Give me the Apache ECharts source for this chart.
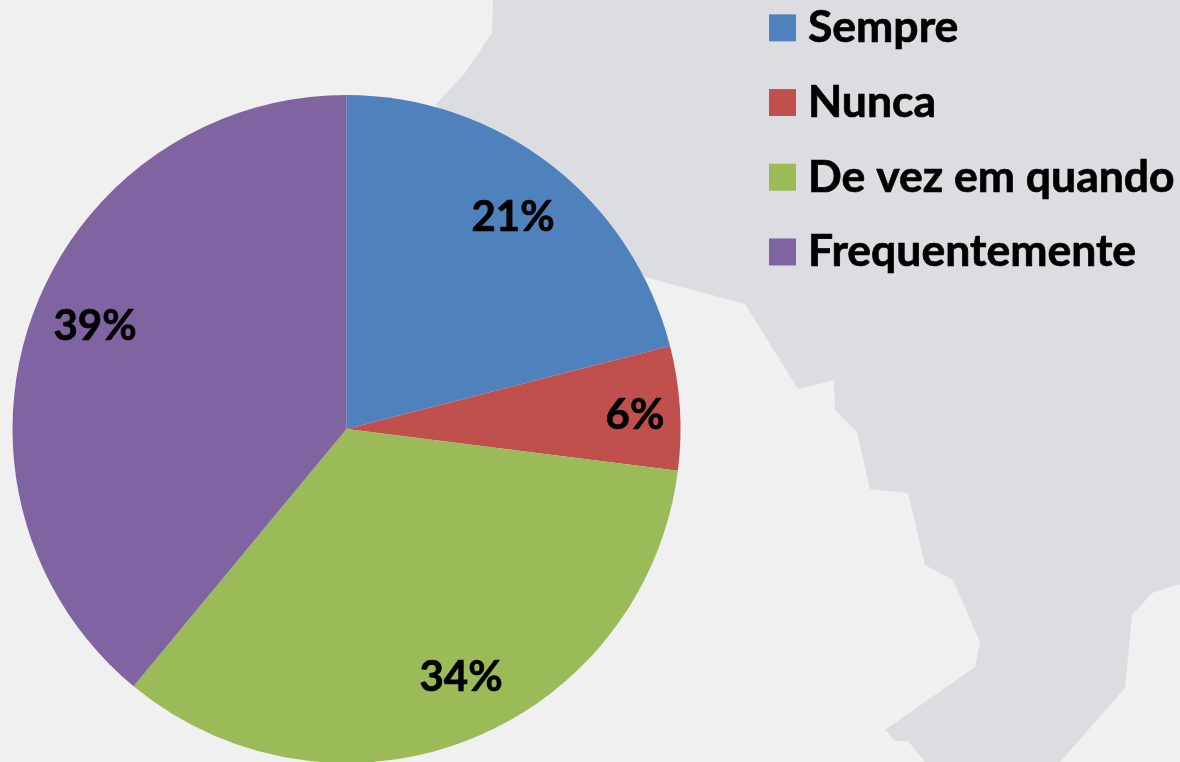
<!DOCTYPE html>
<html><head><meta charset="utf-8">
<style>html,body{margin:0;padding:0;background:#f0f0f0}#c{width:1180px;height:762px}</style>
<script src="https://cdn.jsdelivr.net/npm/echarts@6/dist/echarts.min.js"></script>
</head><body><div id="c"></div>
<script>
const categories = ['Sempre','Nunca','De vez em quando','Frequentemente'];
const values = [21,6,34,39];
const colors = ['#4F81BD','#C0504D','#9BBB59','#8064A2'];
const labelAnchors = [[513,217],[635,415],[461,677],[95,326]];
const mapOutline = [[493,0],[492,33],[465,73],[435,105],[645,277],[745,304],[798,389],[834,380],[835,410],[857,432],[870,489],[908,493],[925,565],[953,580],[980,642],[975,667],[885,730],[895,741],[908,741],[925,762],[1060,762],[1125,688],[1132,615],[1152,593],[1180,584],[1180,0]];
const chart = echarts.init(document.getElementById('c'));
chart.setOption({
  animation:false,
  backgroundColor:'#f0f0f0',
  color:colors,
  graphic:[{type:'polygon',z:-1,silent:true,shape:{points:mapOutline},style:{fill:'#dcdde1'}}],
  legend:{orient:'vertical',left:769,top:5,padding:0,itemWidth:27,itemHeight:27,itemGap:29,icon:'rect',
    data:categories,
    textStyle:{fontFamily:'Lato',fontWeight:'bold',fontSize:44.5,lineHeight:27,color:'#000',textBorderColor:'#000',textBorderWidth:0.7,padding:[0,0,0,7]}},
  series:[{type:'pie',center:[346.5,429],radius:[0,334],startAngle:90,clockwise:true,silent:true,
    data:categories.map((n,i)=>({name:n,value:values[i]})),
    itemStyle:{borderWidth:0},
    label:{show:true,position:'inside',formatter:'{d}%',fontFamily:'Lato',fontWeight:'bold',fontSize:42,color:'#000',textBorderColor:'#000',textBorderWidth:0.7,align:'center',verticalAlign:'middle'},
    labelLine:{show:false},
    labelLayout:p=>({x:labelAnchors[p.dataIndex][0],y:labelAnchors[p.dataIndex][1],align:'center',verticalAlign:'middle'})
  }]
});
</script></body></html>
